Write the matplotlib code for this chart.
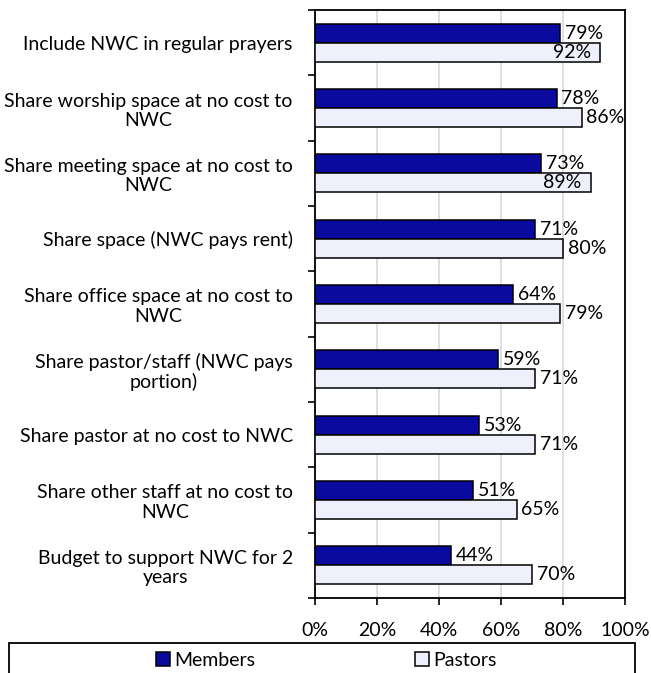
import matplotlib
matplotlib.use('Agg')
import matplotlib.pyplot as plt
from matplotlib.patches import Patch, Rectangle
import numpy as np

categories = [
    'Include NWC in regular prayers',
    'Share worship space at no cost to\nNWC',
    'Share meeting space at no cost to\nNWC',
    'Share space (NWC pays rent)',
    'Share office space at no cost to\nNWC',
    'Share pastor/staff (NWC pays\nportion)',
    'Share pastor at no cost to NWC',
    'Share other staff at no cost to\nNWC',
    'Budget to support NWC for 2\nyears',
]
members = [79, 78, 73, 71, 64, 59, 53, 51, 44]
pastors = [92, 86, 89, 80, 79, 71, 71, 65, 70]
series_names = ['Members', 'Pastors']
x_ticks = [0, 20, 40, 60, 80, 100]

members_color = '#0A0A9E'
pastors_color = '#EEF0FC'

plt.rcParams['font.family'] = ['Lato', 'DejaVu Sans']
fs = 14

fig = plt.figure(figsize=(6.51, 6.73), dpi=100)
ax = fig.add_axes([315 / 651, 1 - 598 / 673, 310 / 651, 588 / 673])

y = np.arange(len(categories))
h = 0.29
ax.barh(y - h / 2, members, height=h, color=members_color, edgecolor='black', linewidth=1.1, zorder=3)
ax.barh(y + h / 2, pastors, height=h, color=pastors_color, edgecolor='black', linewidth=1.1, zorder=3)

# data labels: outside end, or inside end when they would not fit
for vals, off in ((members, -h / 2), (pastors, h / 2)):
    for i, v in enumerate(vals):
        if v > 87:
            ax.text(v - 3, i + off, f'{v}%', ha='right', va='center', fontsize=fs, zorder=4)
        else:
            ax.text(v + 1.5, i + off, f'{v}%', ha='left', va='center', fontsize=fs, zorder=4)

ax.set_xlim(0, 100)
ax.set_ylim(len(categories) - 0.5, -0.5)
ax.set_xticks(x_ticks)
ax.set_xticklabels([f'{t}%' for t in x_ticks], fontsize=fs)
ax.xaxis.grid(True, color='#D9D9D9', linewidth=1.2, zorder=0)
ax.set_axisbelow(True)

ax.set_yticks(np.arange(len(categories) + 1) - 0.5)
ax.set_yticklabels([])
ax.set_yticks(y, minor=True)
ax.set_yticklabels(categories, minor=True, fontsize=fs, ha='right', multialignment='center',
                   linespacing=1.15)
ax.tick_params(axis='y', which='major', length=5, width=1.2, direction='out')
ax.tick_params(axis='y', which='minor', length=0, pad=16)
ax.tick_params(axis='x', length=5, width=1.2, direction='out', pad=12)
for s in ax.spines.values():
    s.set_linewidth(1.3)
    s.set_color('black')

# legend box at the bottom
fig.patches.append(Rectangle((9 / 651, -0.02), 626 / 651, 1 - 643 / 673 + 0.02,
                             transform=fig.transFigure, fill=False, edgecolor='black', linewidth=1.3))
handles = [Patch(facecolor=members_color, edgecolor='black', linewidth=1.1),
           Patch(facecolor=pastors_color, edgecolor='black', linewidth=1.1)]
fig.legend(handles, series_names, ncol=2, loc='center', bbox_to_anchor=(326 / 651, 1 - 660 / 673),
           frameon=False, fontsize=fs, handlelength=0.75, handleheight=0.75, handletextpad=0.2,
           columnspacing=8.2)

fig.savefig('out.png', dpi=100)
